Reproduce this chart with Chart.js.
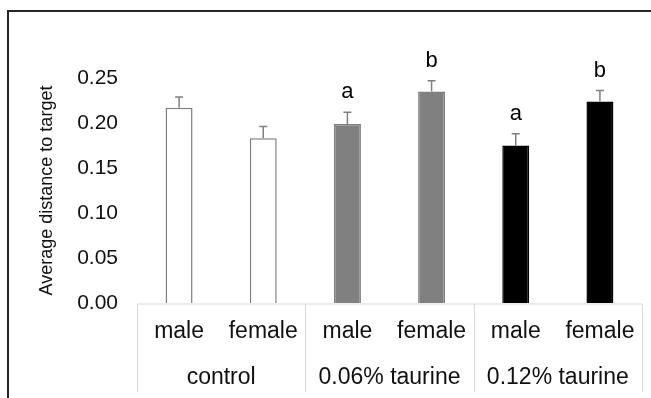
<!DOCTYPE html>
<html>
<head>
<meta charset="utf-8">
<script src="https://cdn.jsdelivr.net/npm/chart.js@4"></script>
<style>
  html, body { margin: 0; padding: 0; background: #fff; }
  canvas { display: block; }
</style>
</head>
<body>
<canvas id="grafico" width="651" height="398"></canvas>
<script>
// Datos
const categorias = ['male', 'female', 'male', 'female', 'male', 'female'];
const grupos = ['control', '0.06% taurine', '0.12% taurine'];
const medias = [0.217, 0.183, 0.199, 0.235, 0.175, 0.224];
const errores = [0.012, 0.013, 0.013, 0.012, 0.013, 0.012];
const letras = ['', '', 'a', 'b', 'a', 'b'];

const fuente = "'Liberation Sans', Arial, sans-serif";

// Barras de error, letras, eje de categorias en dos niveles y marco
const extras = {
    id: 'extras',
    afterDatasetsDraw(chart) {
        const ctx = chart.ctx;
        const x = chart.scales.x;
        const y = chart.scales.y;
        const area = chart.chartArea;
        ctx.save();

        // barras de error
        ctx.strokeStyle = '#808080';
        ctx.lineWidth = 1.5;
        medias.forEach(function(m, i) {
            const px = x.getPixelForValue(i);
            const top = y.getPixelForValue(m);
            const cap = y.getPixelForValue(m + errores[i]);
            ctx.beginPath();
            ctx.moveTo(px, top);
            ctx.lineTo(px, cap);
            ctx.moveTo(px - 4, cap);
            ctx.lineTo(px + 4, cap);
            ctx.stroke();

            if (letras[i]) {
                ctx.fillStyle = '#000';
                ctx.font = '22px ' + fuente;
                ctx.textAlign = 'center';
                ctx.textBaseline = 'alphabetic';
                ctx.fillText(letras[i], px, cap - 14);
            }
        });

        // caja del eje de categorias
        const base = area.bottom + 1;
        const abajo = 392;
        const ancho = (area.right - area.left) / grupos.length;
        ctx.strokeStyle = '#d9d9d9';
        ctx.lineWidth = 1;
        ctx.beginPath();
        ctx.moveTo(area.left, base);
        ctx.lineTo(area.right, base);
        for (let g = 0; g <= grupos.length; g++) {
            const gx = Math.round(area.left + g * ancho) + 0.5;
            ctx.moveTo(gx, base);
            ctx.lineTo(gx, abajo);
        }
        ctx.stroke();

        ctx.fillStyle = '#111';
        ctx.font = '23px ' + fuente;
        ctx.textAlign = 'center';
        ctx.textBaseline = 'middle';
        categorias.forEach(function(c, i) {
            ctx.fillText(c, x.getPixelForValue(i), 332);
        });
        grupos.forEach(function(g, i) {
            ctx.fillText(g, area.left + (i + 0.5) * ancho, 378);
        });

        // marco exterior
        ctx.strokeStyle = '#262626';
        ctx.lineWidth = 2;
        ctx.beginPath();
        ctx.moveTo(8, chart.height);
        ctx.lineTo(8, 11);
        ctx.lineTo(chart.width, 11);
        ctx.stroke();

        ctx.restore();
    }
};

const ctx = document.getElementById('grafico').getContext('2d');
new Chart(ctx, {
    type: 'bar',
    data: {
        labels: categorias,
        datasets: [{
            data: medias,
            backgroundColor: ['#ffffff', '#ffffff', '#808080', '#808080', '#000000', '#000000'],
            borderColor: ['#7f7f7f', '#7f7f7f', '#7f7f7f', '#7f7f7f', '#000000', '#000000'],
            borderWidth: 1.5,
            barPercentage: 0.32,
            categoryPercentage: 1
        }]
    },
    options: {
        responsive: false,
        animation: false,
        devicePixelRatio: 1,
        layout: {
            padding: { left: 20, top: 78, right: 9, bottom: 95 }
        },
        plugins: {
            legend: { display: false },
            tooltip: { enabled: false }
        },
        scales: {
            x: {
                display: false
            },
            y: {
                min: 0,
                max: 0.25,
                afterFit: function(s) { s.width = 117; },
                grid: { display: false, drawTicks: false },
                border: { display: false },
                ticks: {
                    stepSize: 0.05,
                    padding: 19,
                    color: '#111',
                    font: { family: fuente, size: 21 },
                    callback: function(v) { return v.toFixed(2); }
                },
                title: {
                    display: true,
                    text: 'Average distance to target',
                    color: '#111',
                    font: { family: fuente, size: 18 },
                    padding: { top: 16, bottom: 0 }
                }
            }
        }
    },
    plugins: [extras]
});
</script>
</body>
</html>
